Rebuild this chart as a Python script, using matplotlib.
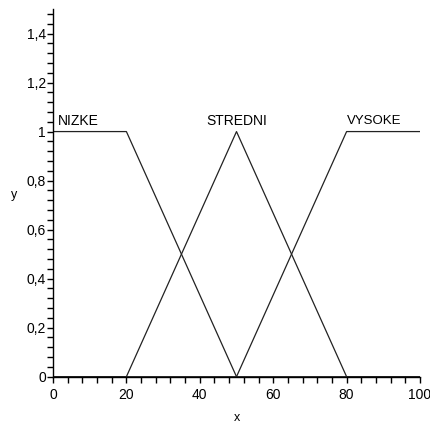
import numpy as np
import matplotlib
matplotlib.use("Agg")
import matplotlib.pyplot as plt
from matplotlib.ticker import MultipleLocator, FuncFormatter

plt.rcParams['font.family'] = ['Liberation Sans', 'DejaVu Sans']

# membership functions (breakpoints)
x_nizke = [0, 20, 50, 100]
y_nizke = [1, 1, 0, 0]
x_stredni = [0, 20, 50, 80, 100]
y_stredni = [0, 0, 1, 0, 0]
x_vysoke = [0, 50, 80, 100]
y_vysoke = [0, 0, 1, 1]

labels = ["NIZKE", "STREDNI", "VYSOKE"]
label_x = [1.2, 50, 87.5]
label_y = 1.045

fig = plt.figure(figsize=(4.31, 4.24), dpi=100)
ax = fig.add_axes([53/431, (424-376.7)/424, 367/431, 367.7/424])

col = "#222222"
ax.plot(x_nizke, y_nizke, color=col, lw=0.9)
ax.plot(x_stredni, y_stredni, color=col, lw=0.9)
ax.plot(x_vysoke, y_vysoke, color=col, lw=0.9)

fs = 10
ax.text(label_x[0], label_y, labels[0], ha="left", va="center", fontsize=fs)
ax.text(label_x[1], label_y, labels[1], ha="center", va="center", fontsize=fs)
ax.text(label_x[2], label_y, labels[2], ha="center", va="center", fontsize=9.5)

ax.set_xlim(0, 100)
ax.set_ylim(0, 1.5)
for s in ["top", "right"]:
    ax.spines[s].set_visible(False)
for s in ["left", "bottom"]:
    ax.spines[s].set_linewidth(1.0)
    ax.spines[s].set_color("black")

ax.xaxis.set_major_locator(MultipleLocator(20))
ax.xaxis.set_minor_locator(MultipleLocator(4))
ax.yaxis.set_major_locator(MultipleLocator(0.2))
ax.yaxis.set_minor_locator(MultipleLocator(0.04))

def fmt(v, pos):
    s = ("%.1f" % v).rstrip("0").rstrip(".")
    return s.replace(".", ",")

ax.yaxis.set_major_formatter(FuncFormatter(fmt))
ax.set_yticks([0, 0.2, 0.4, 0.6, 0.8, 1, 1.2, 1.4])
ax.tick_params(which="both", direction="out", length=4, width=1, labelsize=fs)
ax.tick_params(axis="x", pad=4)
ax.tick_params(axis="y", pad=1)

fig.text(14/431, 1 - 195/424, "y", ha="center", va="center", fontsize=9)
fig.text(237/431, 1 - 418/424, "x", ha="center", va="center", fontsize=9)

fig.savefig("out.png", dpi=100)
